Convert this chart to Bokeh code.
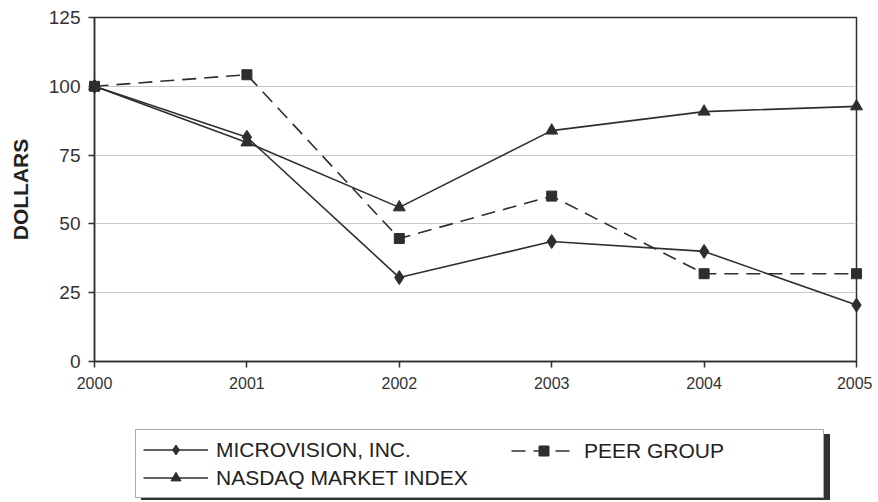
from bokeh.plotting import figure
from bokeh.layouts import column
from bokeh.models import Range1d, FixedTicker, Legend, LegendItem
from bokeh.embed import file_html
from bokeh.resources import INLINE

years = [2000, 2001, 2002, 2003, 2004, 2005]
microvision = [100, 81.5, 30.5, 43.6, 40.0, 20.5]
peer_group = [100, 104.2, 44.7, 60.1, 31.9, 31.9]
nasdaq = [100, 79.6, 56.0, 83.9, 90.8, 92.7]
y_ticks = [0, 25, 50, 75, 100, 125]
labels = ["MICROVISION, INC.", "PEER GROUP", "NASDAQ MARKET INDEX"]

FONT = "Liberation Sans"
INK = "#2e2e2e"
W = 872
BL, BR = 94, 16

p = figure(width=W, height=425, output_backend="svg", toolbar_location=None,
           x_range=Range1d(2000, 2005), y_range=Range1d(0, 125),
           min_border_left=BL, min_border_right=BR, min_border_top=17, min_border_bottom=64)

p.background_fill_color = "white"
p.border_fill_color = "white"
p.outline_line_color = INK
p.outline_line_width = 1.5

p.xgrid.visible = False
p.ygrid.grid_line_color = "#c8c8c8"
p.ygrid.grid_line_width = 1
p.ygrid.ticker = FixedTicker(ticks=y_ticks)

p.xaxis.ticker = FixedTicker(ticks=years)
p.yaxis.ticker = FixedTicker(ticks=y_ticks)
for ax in (p.xaxis, p.yaxis):
    ax.axis_line_color = INK
    ax.axis_line_width = 1.5
    ax.major_tick_line_color = INK
    ax.major_tick_line_width = 1.5
    ax.major_tick_in = 0
    ax.major_tick_out = 6
    ax.minor_tick_line_color = None
    ax.major_label_text_font = FONT
    ax.major_label_text_color = "#333333"

p.xaxis.major_label_text_font_size = "16px"
p.xaxis.major_label_standoff = 9
p.yaxis.major_label_text_font_size = "19px"
p.yaxis.major_label_standoff = 8
p.yaxis.axis_label = "DOLLARS"
p.yaxis.axis_label_text_font = FONT
p.yaxis.axis_label_text_font_style = "bold"
p.yaxis.axis_label_text_font_size = "21px"
p.yaxis.axis_label_text_color = "#222222"
p.yaxis.axis_label_standoff = 14

line_kw = dict(line_color=INK, line_width=1.6)
mv_kw = dict(marker="diamond", size=14, fill_color=INK, line_color=INK)
pg_kw = dict(marker="square", size=10, fill_color=INK, line_color=INK)
nq_kw = dict(marker="triangle", size=12, fill_color=INK, line_color=INK)
DASH = "14 8"

p.line(years, microvision, **line_kw)
p.scatter(years, microvision, level="overlay", **mv_kw)
p.line(years, peer_group, line_dash=DASH, **line_kw)
p.scatter(years, peer_group, level="overlay", **pg_kw)
p.line(years, nasdaq, **line_kw)
p.scatter(years, nasdaq, level="overlay", **nq_kw)

# legend panel: separate canvas (same side borders as the chart) so the legend is not clipped
LH = 75
q = figure(width=W, height=LH, output_backend="svg", toolbar_location=None,
           x_range=Range1d(0, 1), y_range=Range1d(0, 1),
           x_axis_type=None, y_axis_type=None,
           min_border_left=BL, min_border_right=BR, min_border_top=0, min_border_bottom=0)
q.outline_line_color = None
q.grid.visible = False
q.background_fill_color = "white"
q.border_fill_color = "white"

# same series drawn out of this panel's view; only their legend glyphs show
ql_mv = q.line(years, microvision, **line_kw)
qm_mv = q.scatter(years, microvision, **mv_kw)
ql_pg = q.line(years, peer_group, line_dash=DASH, **line_kw)
qm_pg = q.scatter(years, peer_group, **pg_kw)
ql_nq = q.line(years, nasdaq, **line_kw)
qm_nq = q.scatter(years, nasdaq, **nq_kw)

common = dict(glyph_width=65, glyph_height=25, label_height=25, label_standoff=8,
              padding=7, spacing=3, margin=0, label_text_font=FONT,
              label_text_font_size="21px", label_text_color="#222222")

shadow_kw = dict(common)
shadow_kw["label_height"] = 53
shadow = Legend(items=[LegendItem(label=" ", renderers=[ql_mv])], location=(47, -3),
                label_width=600, border_line_color="#333333",
                background_fill_color="#333333", background_fill_alpha=1.0, **shadow_kw)
leg_a = Legend(items=[LegendItem(label=labels[0], renderers=[ql_mv, qm_mv]),
                      LegendItem(label=labels[2], renderers=[ql_nq, qm_nq])],
               location=(41, 2), label_width=600,
               border_line_color="#555555", border_line_width=1.5,
               background_fill_color="white", background_fill_alpha=1.0, **common)
leg_b = Legend(items=[LegendItem(label=labels[1], renderers=[ql_pg, qm_pg])],
               location=(410, 30), label_width=150,
               border_line_color="#555555", border_line_alpha=0.0,
               background_fill_alpha=0.0, **common)

q.add_layout(shadow, "center")
q.add_layout(leg_a, "center")
q.add_layout(leg_b, "center")

layout = column(p, q, spacing=0)
open("out.html", "w").write(file_html(layout, INLINE))
